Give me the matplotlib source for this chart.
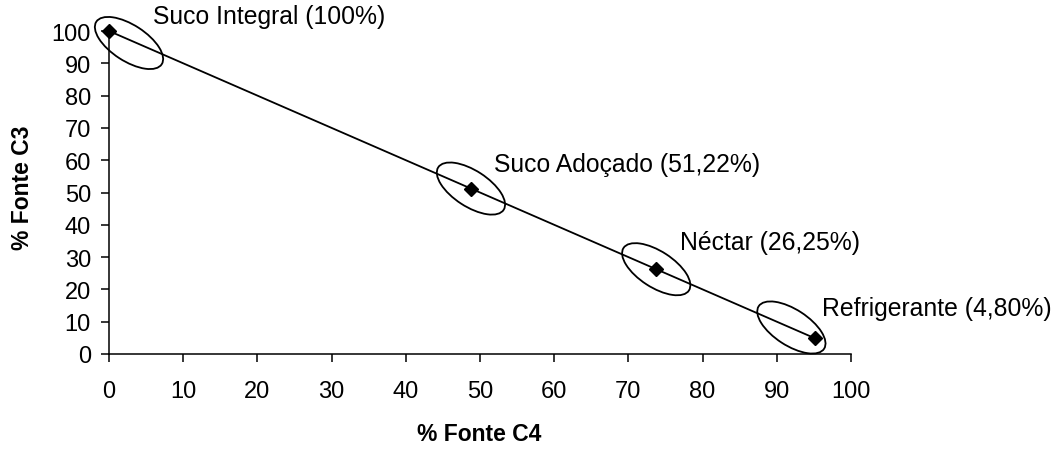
import matplotlib
matplotlib.use("Agg")
import matplotlib.pyplot as plt
from matplotlib.patches import Ellipse
from matplotlib.transforms import ScaledTranslation

plt.rcParams['font.family'] = ['Liberation Sans', 'DejaVu Sans']

# Data
fonte_c4 = [0, 48.78, 73.75, 95.20]
fonte_c3 = [100, 51.22, 26.25, 4.80]
labels = ["Suco Integral (100%)", "Suco Adoçado (51,22%)", "Néctar (26,25%)", "Refrigerante (4,80%)"]
ticks = list(range(0, 101, 10))

# Styling offsets (pixels): label offsets and ellipse center offsets
label_offsets = [(44, 15), (23, 25), (24, 27), (7, 30)]
ellipse_offsets = [(20, -12), (0, 0), (0, 0), (-24, 11)]

fig = plt.figure(figsize=(10.61, 4.52), dpi=100)
ax = fig.add_axes([109/1061, 97/452, 742/1061, 323/452])

ax.plot(fonte_c4, fonte_c3, color='black', lw=1.3, marker='D', markersize=7.5,
        markerfacecolor='black', markeredgecolor='black', clip_on=False, zorder=3)

for (x, y), (ox, oy) in zip(zip(fonte_c4, fonte_c3), ellipse_offsets):
    trans = (fig.dpi_scale_trans +
             ScaledTranslation(x, y, ax.transData))
    e = Ellipse((ox / 100, oy / 100), width=0.78, height=0.36, angle=-33,
                fill=False, edgecolor='black', lw=1.3, transform=trans, clip_on=False)
    ax.add_patch(e)

for x, y, lab, (dx, dy) in zip(fonte_c4, fonte_c3, labels, label_offsets):
    ax.annotate(lab, (x, y), xytext=(dx, dy), textcoords='offset pixels',
                ha='left', va='center', fontsize=17.8, annotation_clip=False)

ax.set_xlim(0, 100)
ax.set_ylim(0, 100)
ax.set_xticks(ticks)
ax.set_yticks(ticks)
ax.spines['top'].set_visible(False)
ax.spines['right'].set_visible(False)
for s in ['left', 'bottom']:
    ax.spines[s].set_linewidth(1.1)
ax.tick_params(axis='both', direction='out', length=6, width=1.1, labelsize=17)
ax.tick_params(axis='x', pad=13)
ax.tick_params(axis='y', pad=7)

ax.set_xlabel("% Fonte C4", fontsize=16.5, fontweight='bold')
ax.set_ylabel("% Fonte C3", fontsize=16.5, fontweight='bold')
ax.xaxis.set_label_coords(0.499, -0.245)
ax.yaxis.set_label_coords(-0.117, 0.517)
ax.xaxis.label.set_va('center')
ax.yaxis.label.set_va('center')

fig.savefig("out.png", dpi=100)
